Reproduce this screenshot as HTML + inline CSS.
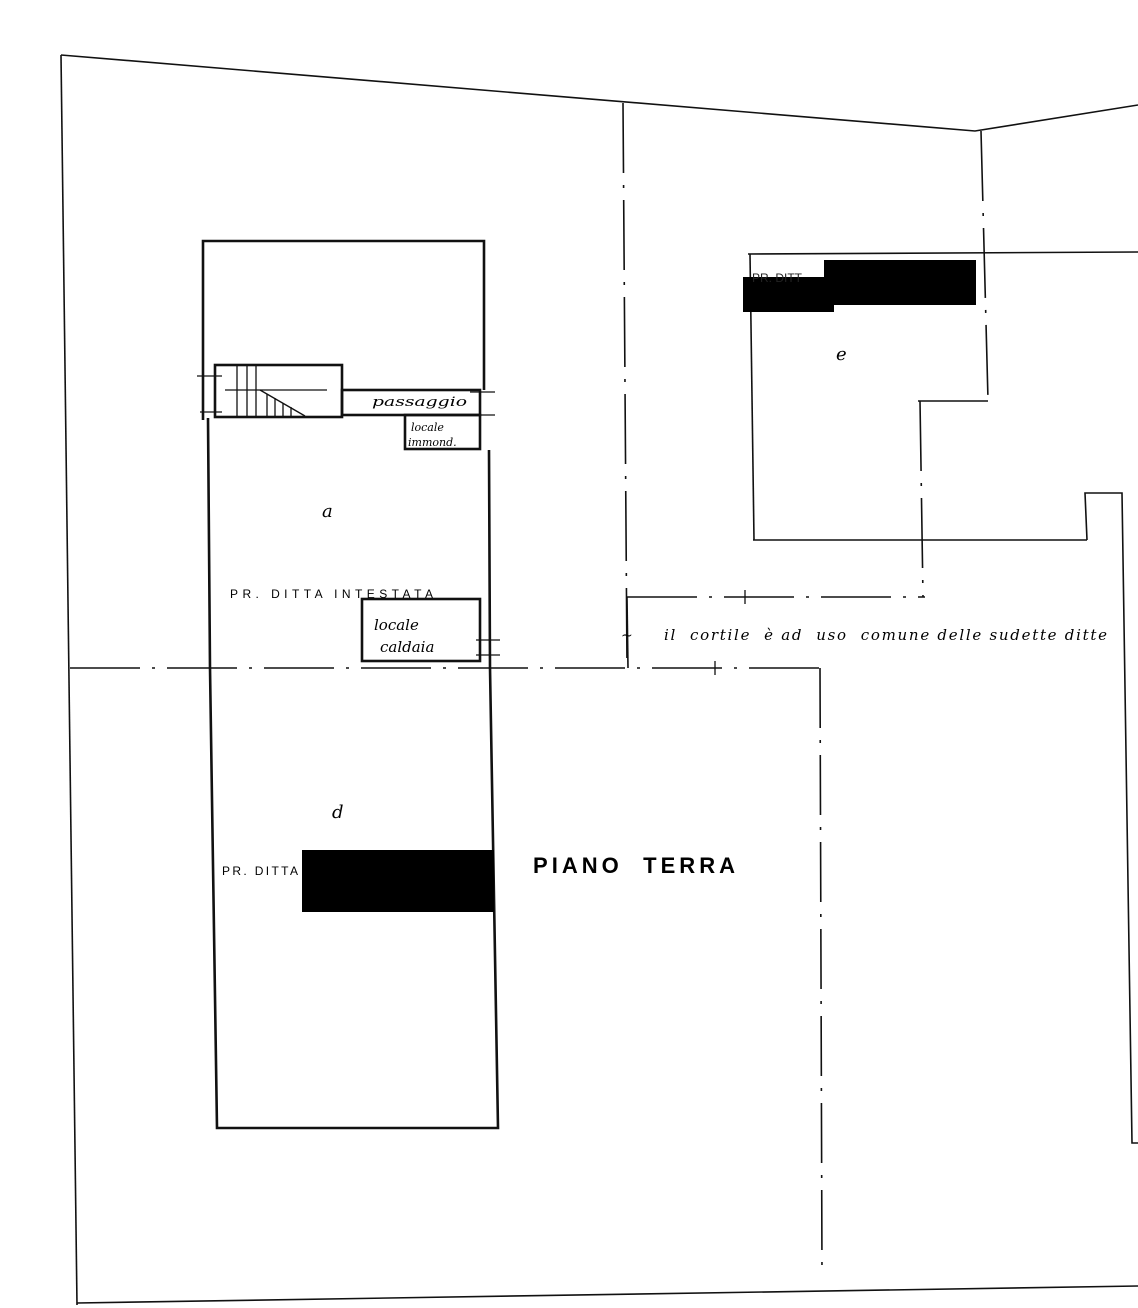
<!DOCTYPE html>
<html><head><meta charset="utf-8"><style>
html,body{margin:0;padding:0;background:#fff;}
svg{display:block}
.h{font-family:"DejaVu Serif","Liberation Serif",serif;font-style:italic;}
.s{font-family:"Liberation Sans",sans-serif;}
</style></head><body>
<svg width="1138" height="1308" viewBox="0 0 1138 1308" xmlns="http://www.w3.org/2000/svg">
<g fill="none" stroke="#111" stroke-width="1.6">
<polyline points="61,55 975,131 1138,105"/>
<line x1="61" y1="55" x2="77" y2="1305"/>
<line x1="77" y1="1303" x2="1138" y2="1286"/>
<g stroke-dasharray="70,12,3,12">
<line x1="623" y1="103" x2="627" y2="668"/>
<line x1="981" y1="131" x2="988" y2="400"/>
<line x1="918" y1="401" x2="990" y2="401"/>
<line x1="920" y1="401" x2="923" y2="597"/>
<line x1="627" y1="597" x2="925" y2="597"/>
<line x1="70" y1="668" x2="820" y2="668"/>
</g>
<line x1="627" y1="597" x2="628" y2="668"/>
<line x1="820" y1="668" x2="822" y2="1275" stroke-dasharray="60,12,3,12"/>
<line x1="748" y1="254" x2="1138" y2="252"/>
<line x1="750" y1="254" x2="754" y2="540"/>
<line x1="753" y1="540" x2="1087" y2="540"/>
<polyline points="1087,540 1085,493 1122,493 1132,1143 1138,1143"/>
<g stroke-width="2.6">
<polyline points="203,420 203,241 484,241 484,390"/>
<polyline points="208,418 210,668 217,1128 498,1128 490,668 489,450"/>
<rect x="215" y="365" width="127" height="52"/>
<rect x="342" y="390" width="138" height="25"/>
<rect x="405" y="415" width="75" height="34"/>
<rect x="362" y="599" width="118" height="62"/>
</g>
<g stroke-width="1.3">
<line x1="237" y1="366" x2="237" y2="416"/>
<line x1="247" y1="366" x2="247" y2="416"/>
<line x1="256" y1="366" x2="256" y2="416"/>
<line x1="225" y1="390" x2="327" y2="390"/>
<line x1="260" y1="390" x2="305" y2="416"/>
<line x1="267" y1="394" x2="267" y2="416"/>
<line x1="275" y1="398" x2="275" y2="416"/>
<line x1="283" y1="403" x2="283" y2="416"/>
<line x1="291" y1="407" x2="291" y2="416"/>
<line x1="197" y1="376" x2="222" y2="376"/>
<line x1="200" y1="412" x2="222" y2="412"/>
<line x1="470" y1="392" x2="495" y2="392"/>
<line x1="470" y1="415" x2="495" y2="415"/>
<line x1="476" y1="640" x2="500" y2="640"/>
<line x1="476" y1="655" x2="500" y2="655"/>
<line x1="745" y1="590" x2="745" y2="604"/>
<line x1="715" y1="661" x2="715" y2="675"/>
</g>
</g>
<rect x="824" y="260" width="152" height="45" fill="#000"/>
<rect x="743" y="277" width="91" height="35" fill="#000"/>
<rect x="302" y="850" width="192" height="62" fill="#000"/>
<text x="752" y="282" class="s" font-size="12" fill="#222">PR. DITT</text>
<text x="836" y="360" class="h" font-size="18">e</text>
<text x="322" y="517" class="h" font-size="18">a</text>
<text x="332" y="818" class="h" font-size="18">d</text>
<text x="372" y="406" class="h" font-size="13" textLength="95" lengthAdjust="spacingAndGlyphs">passaggio</text>
<text x="411" y="431" class="h" font-size="11">locale</text>
<text x="408" y="446" class="h" font-size="11">immond.</text>
<text x="374" y="630" class="h" font-size="15">locale</text>
<text x="380" y="652" class="h" font-size="15">caldaia</text>
<text x="230" y="598" class="s" font-size="12" textLength="203" lengthAdjust="spacing">PR. DITTA INTESTATA</text>
<text x="222" y="875" class="s" font-size="12" textLength="76" lengthAdjust="spacing">PR. DITTA</text>
<text x="533" y="873" class="s" font-size="22" font-weight="bold" textLength="202" lengthAdjust="spacing">PIANO&#160;&#160;TERRA</text>
<text x="664" y="640" class="h" font-size="15" textLength="443" lengthAdjust="spacing">il&#160; cortile&#160; è ad&#160; uso&#160; comune delle sudette ditte</text>
<text x="621" y="640" class="h" font-size="14">~</text>
</svg>
</body></html>
